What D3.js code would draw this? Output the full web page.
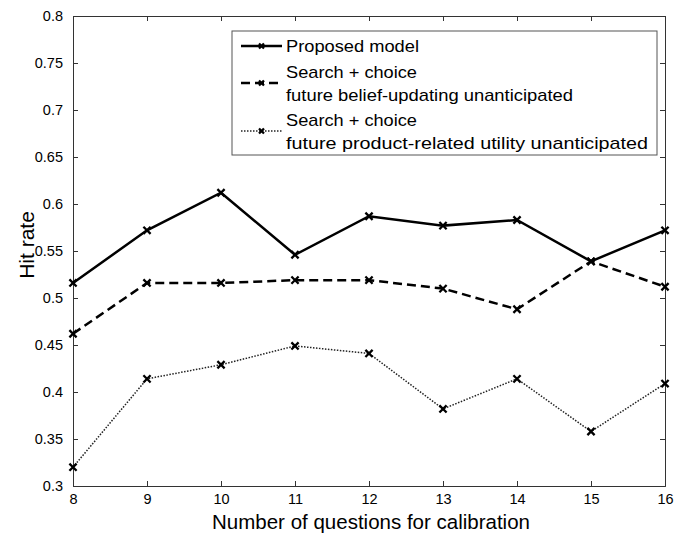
<!DOCTYPE html>
<html>
<head>
<meta charset="utf-8">
<script src="https://cdn.jsdelivr.net/npm/d3@7"></script>
<style>
  body { margin: 0; background: #fff; }
  text { font-family: "Liberation Sans", Arial, sans-serif; fill: #000; }
</style>
</head>
<body>
<div id="chart"></div>
<script>
// data
var questions = [8, 9, 10, 11, 12, 13, 14, 15, 16];
var proposed  = [0.516, 0.572, 0.612, 0.546, 0.587, 0.577, 0.583, 0.539, 0.572];
var beliefUna = [0.462, 0.516, 0.516, 0.519, 0.519, 0.510, 0.488, 0.539, 0.512];
var utilUna   = [0.320, 0.414, 0.429, 0.449, 0.441, 0.382, 0.414, 0.358, 0.409];
var yTicks = [0.3, 0.35, 0.4, 0.45, 0.5, 0.55, 0.6, 0.65, 0.7, 0.75, 0.8];

var W = 678, H = 535;
var margin = {top: 16, right: 13, bottom: 49, left: 73},
    width = W - margin.left - margin.right,
    height = H - margin.top - margin.bottom;

var svg = d3.select("#chart").append("svg")
    .attr("width", W)
    .attr("height", H)
  .append("g")
    .attr("transform", "translate(" + margin.left + "," + margin.top + ")");

var x = d3.scaleLinear().domain([8, 16]).range([0, width]);
var y = d3.scaleLinear().domain([0.3, 0.8]).range([height, 0]);

var axisColor = "#333";

// ticks inside on all four sides, MATLAB style
var xb = svg.append("g")
    .attr("transform", "translate(0," + height + ")")
    .call(d3.axisBottom(x).tickValues(questions).tickSize(-5).tickPadding(8).tickFormat(d3.format("d")));
var xt = svg.append("g")
    .call(d3.axisTop(x).tickValues(questions).tickSize(-5).tickFormat(""));
var yl = svg.append("g")
    .call(d3.axisLeft(y).tickValues(yTicks).tickSize(-5).tickPadding(10).tickFormat(function(d){ return String(+d.toFixed(2)); }));
var yr = svg.append("g")
    .attr("transform", "translate(" + width + ",0)")
    .call(d3.axisRight(y).tickValues(yTicks).tickSize(-5).tickFormat(""));

[xb, xt, yl, yr].forEach(function(a){
  a.selectAll(".domain").attr("stroke", axisColor).attr("stroke-width", 1);
  a.selectAll(".tick line").attr("stroke", axisColor);
  a.selectAll(".tick text").style("font-size", "14.5px").attr("fill", "#000")
    .style("font-family", "'Liberation Sans', Arial, sans-serif");
});

// axis titles
svg.append("text")
    .attr("x", width / 2 + 2)
    .attr("y", height + 43)
    .attr("text-anchor", "middle")
    .style("font-size", "20.5px")
    .text("Number of questions for calibration");

svg.append("text")
    .attr("transform", "rotate(-90)")
    .attr("x", -(y(0.55)) + 6)
    .attr("y", -39)
    .attr("text-anchor", "middle")
    .style("font-size", "21px")
    .text("Hit rate");

var series = [
  {values: proposed,  width: 2.5, dash: null,    color: "#000"},
  {values: beliefUna, width: 2.5, dash: "9,5",   color: "#000"},
  {values: utilUna,   width: 1.5, dash: "1.5,1.5", color: "#222"}
];

var line = d3.line()
    .x(function(d, i){ return x(questions[i]); })
    .y(function(d){ return y(d); });

function cross(g, cx, cy, s) {
  g.append("path")
    .attr("d", "M" + (cx - s) + "," + (cy - s) + "L" + (cx + s) + "," + (cy + s) +
               "M" + (cx - s) + "," + (cy + s) + "L" + (cx + s) + "," + (cy - s))
    .attr("stroke", "#000")
    .attr("stroke-width", 2.3)
    .attr("fill", "none");
}

series.forEach(function(s){
  svg.append("path")
    .datum(s.values)
    .attr("d", line)
    .attr("fill", "none")
    .attr("stroke", s.color)
    .attr("stroke-width", s.width)
    .attr("stroke-dasharray", s.dash);
  var mk = svg.append("g");
  s.values.forEach(function(v, i){ cross(mk, x(questions[i]), y(v), 3.6); });
});

// legend (text widths fitted to the reference's text)
var legendRows = [
  {lines: ["Proposed model"], widths: [133]},
  {lines: ["Search + choice", "future belief-updating unanticipated"], widths: [131, 287]},
  {lines: ["Search + choice", "future product-related utility unanticipated"], widths: [131, 362]}
];
var lg = svg.append("g").attr("transform", "translate(" + (232 - margin.left) + "," + (31 - margin.top) + ")");
lg.append("rect")
    .attr("width", 425).attr("height", 124)
    .attr("fill", "#fff").attr("stroke", "#555").attr("stroke-width", 1);

var rowY = [15, 52, 100];
legendRows.forEach(function(r, k){
  var s = series[k];
  var midY = rowY[k];
  r.lines.forEach(function(t, j){
    lg.append("text")
      .attr("x", 54)
      .attr("y", midY + (j - (r.lines.length - 1) / 2) * 23)
      .attr("dy", "0.36em")
      .attr("textLength", r.widths[j])
      .attr("lengthAdjust", "spacingAndGlyphs")
      .style("font-size", "17px")
      .text(t);
  });
  lg.append("line")
    .attr("x1", 9).attr("x2", 50)
    .attr("y1", midY).attr("y2", midY)
    .attr("stroke", s.color)
    .attr("stroke-width", s.width)
    .attr("stroke-dasharray", s.dash);
  cross(lg, 29.5, midY, 2.5);
});
</script>
</body>
</html>
